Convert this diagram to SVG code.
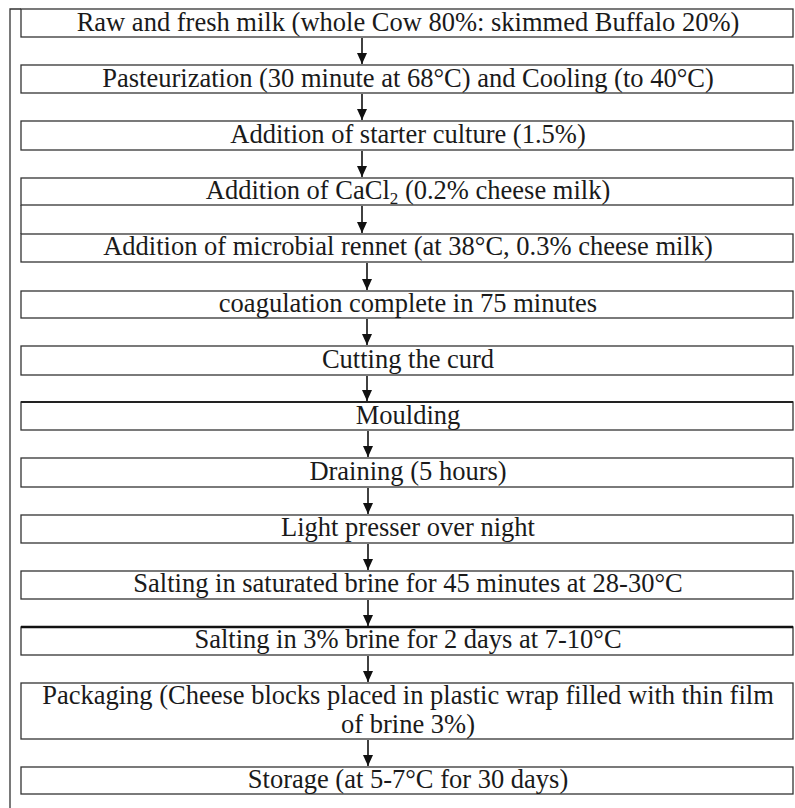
<svg xmlns="http://www.w3.org/2000/svg" width="795" height="808" viewBox="0 0 795 808">
<defs>
<style>
.box{fill:#fff;stroke:#333;stroke-width:1.3}
text{font-family:"Liberation Serif","Times New Roman",serif;font-size:26.5px;fill:#1a1a1a;text-anchor:middle}
.conn line{stroke:#111;stroke-width:1.6}
.frame{fill:none;stroke:#333;stroke-width:1.3}
</style>
<marker id="ah" viewBox="0 0 11 10" refX="11" refY="5" markerWidth="11" markerHeight="10" markerUnits="userSpaceOnUse" orient="auto">
<path d="M0,0 L11,5 L0,10 z" fill="#111"/>
</marker>
</defs>
<rect width="795" height="808" fill="#fff"/>
<path class="frame" d="M10,808 V9 H21"/>
<path class="frame" d="M21,205 V234"/>
<g id="n1"><rect class="box" x="21" y="9" width="772" height="28"/><text x="408" y="31">Raw and fresh milk (whole Cow 80%: skimmed Buffalo 20%)</text></g>
<g id="n2"><rect class="box" x="21" y="65" width="772" height="28"/><text x="408" y="87">Pasteurization (30 minute at 68°C) and Cooling (to 40°C)</text></g>
<g id="n3"><rect class="box" x="21" y="121" width="772" height="29"/><text x="408" y="143">Addition of starter culture (1.5%)</text></g>
<g id="n4"><rect class="box" x="21" y="178" width="772" height="27"/><text x="408" y="199">Addition of CaCl<tspan font-size="17" dy="5">2</tspan><tspan dy="-5"> (0.2% cheese milk)</tspan></text></g>
<g id="n5"><rect class="box" x="21" y="234" width="772" height="28"/><text x="408" y="255">Addition of microbial rennet (at 38°C, 0.3% cheese milk)</text></g>
<g id="n6"><rect class="box" x="21" y="291" width="772" height="27"/><text x="408" y="312">coagulation complete in 75 minutes</text></g>
<g id="n7"><rect class="box" x="21" y="346" width="772" height="29"/><text x="408" y="368">Cutting the curd</text></g>
<g id="n8"><rect class="box" x="21" y="402" width="772" height="28"/><line x1="21" y1="402" x2="793" y2="402" stroke="#222" stroke-width="2.2"/><text x="408" y="424">Moulding</text></g>
<g id="n9"><rect class="box" x="21" y="458" width="772" height="29"/><text x="408" y="480">Draining (5 hours)</text></g>
<g id="n10"><rect class="box" x="21" y="515" width="772" height="28"/><text x="408" y="536">Light presser over night</text></g>
<g id="n11"><rect class="box" x="21" y="571" width="772" height="28"/><text x="408" y="592">Salting in saturated brine for 45 minutes at 28-30°C</text></g>
<g id="n12"><rect class="box" x="21" y="627" width="772" height="28"/><line x1="21" y1="627" x2="793" y2="627" stroke="#111" stroke-width="2.4"/><text x="408" y="648">Salting in 3% brine for 2 days at 7-10°C</text></g>
<g id="n13"><rect class="box" x="21" y="683" width="772" height="56"/><text x="408" y="704" font-size="26"><tspan x="408" y="704">Packaging (Cheese blocks placed in plastic wrap filled with thin film</tspan><tspan x="408" y="733">of brine 3%)</tspan></text></g>
<g id="n14"><rect class="box" x="21" y="767" width="772" height="27"/><text x="408" y="788">Storage (at 5-7°C for 30 days)</text></g>
<g id="connectors" class="conn">
<line x1="362" y1="38" x2="362" y2="64" marker-end="url(#ah)"/>
<line x1="362" y1="94" x2="362" y2="120" marker-end="url(#ah)"/>
<line x1="362" y1="151" x2="362" y2="177" marker-end="url(#ah)"/>
<line x1="362" y1="206" x2="362" y2="233" marker-end="url(#ah)"/>
<line x1="367" y1="263" x2="367" y2="290" marker-end="url(#ah)"/>
<line x1="367" y1="319" x2="367" y2="345" marker-end="url(#ah)"/>
<line x1="367" y1="376" x2="367" y2="401" marker-end="url(#ah)"/>
<line x1="368" y1="431" x2="368" y2="457" marker-end="url(#ah)"/>
<line x1="368" y1="488" x2="368" y2="514" marker-end="url(#ah)"/>
<line x1="368" y1="544" x2="368" y2="570" marker-end="url(#ah)"/>
<line x1="368" y1="600" x2="368" y2="626" marker-end="url(#ah)"/>
<line x1="368" y1="656" x2="368" y2="682" marker-end="url(#ah)"/>
<line x1="368" y1="740" x2="368" y2="766" marker-end="url(#ah)"/>
</g>
</svg>
